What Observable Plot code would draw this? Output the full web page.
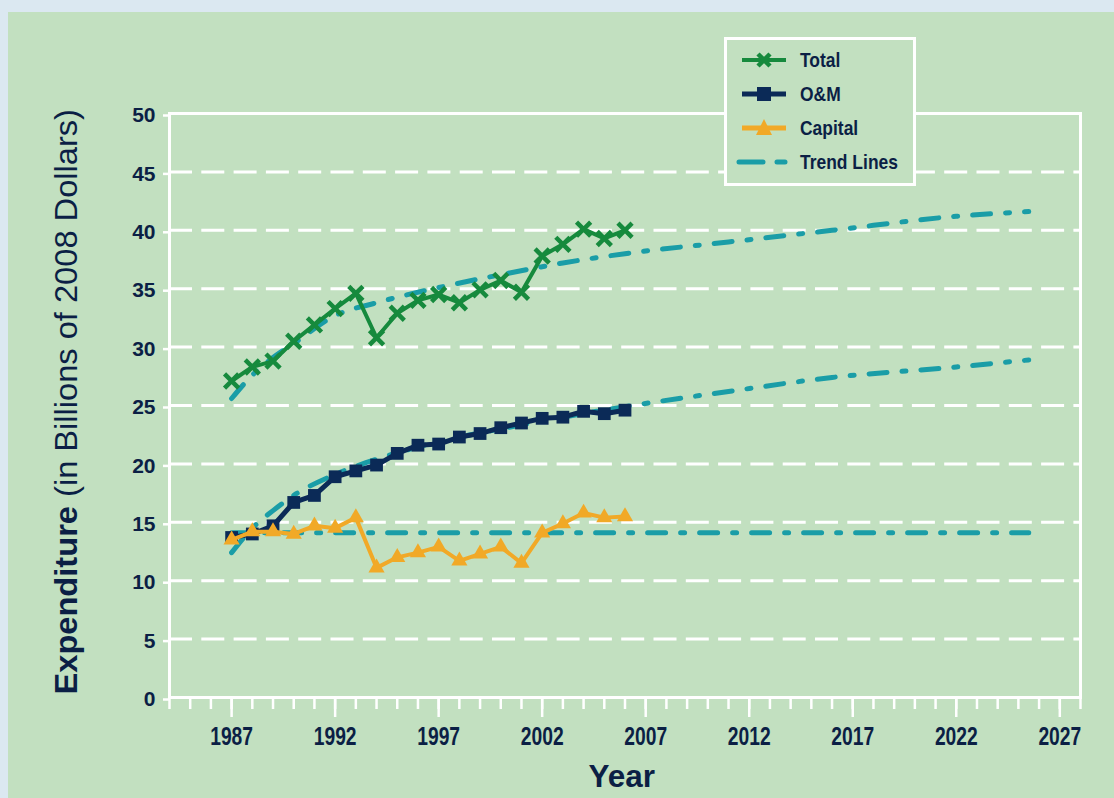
<!DOCTYPE html>
<html>
<head>
<meta charset="utf-8">
<script src="https://cdn.jsdelivr.net/npm/d3@7"></script>
<script src="https://cdn.jsdelivr.net/npm/@observablehq/plot@0.6"></script>
<style>
  html, body { margin: 0; padding: 0; }
  body { width: 1114px; height: 798px; background: #dbe8f1; position: relative; overflow: hidden; }
  #panel { position: absolute; left: 8px; top: 12px; width: 1106px; height: 786px; background: #c2e0c0; }
  #chart { position: absolute; left: 0; top: 0; }
  .narrow { font-family: "Liberation Sans", Arial, sans-serif; font-weight: bold; color: #0b1f45; line-height: 1; }
  .anchor { position: absolute; width: 0; height: 0; }
  .anchor > span { position: absolute; left: 0; top: 0; white-space: nowrap; display: inline-block; }
  #ytitle > span { font-size: 32px; }
  #ytitle .light { font-weight: normal; }
  #xtitle > span { font-size: 31px; }
  #legend { position: absolute; left: 724px; top: 37px; width: 186px; height: 143px; border: 3px solid #fff; background: #c2e0c0; }
</style>
</head>
<body>
<div id="panel"></div>
<div id="chart"></div>
<div id="ytitle" class="anchor narrow" style="left:66px; top:402px;"><span>Expenditure <span class="light">(in Billions of 2008 Dollars)</span></span></div>
<div id="xtitle" class="anchor narrow" style="left:622px; top:776px;"><span>Year</span></div>
<div id="legend"></div>
<script>
// ---- data ----
const years = [1987, 1988, 1989, 1990, 1991, 1992, 1993, 1994, 1995, 1996, 1997, 1998, 1999, 2000, 2001, 2002, 2003, 2004, 2005, 2006];
const totalValues = [27.1, 28.3, 28.8, 30.5, 31.9, 33.3, 34.6, 30.8, 32.9, 34.0, 34.5, 33.8, 34.9, 35.7, 34.7, 37.8, 38.8, 40.1, 39.3, 40.0];
const omValues = [13.7, 14.0, 14.7, 16.7, 17.3, 18.9, 19.4, 19.9, 20.9, 21.6, 21.7, 22.3, 22.6, 23.1, 23.5, 23.9, 24.0, 24.5, 24.3, 24.6];
const capitalValues = [13.5, 14.2, 14.2, 14.0, 14.7, 14.5, 15.4, 11.1, 12.0, 12.4, 12.9, 11.7, 12.3, 12.9, 11.5, 14.1, 14.9, 15.8, 15.4, 15.5];

const trendYears = [1987, 1988, 1989, 1990, 1992, 1994, 1997, 2000, 2003, 2006, 2011, 2016, 2022, 2025.5];
const totalTrend = [25.6, 27.6, 29.1, 30.3, 32.7, 33.8, 35.1, 36.2, 37.2, 38.0, 39.0, 40.0, 41.2, 41.6];
const omTrend = [12.4, 14.5, 16.0, 17.3, 19.1, 20.4, 21.9, 23.0, 24.0, 24.9, 26.2, 27.4, 28.3, 28.9];
const capitalTrendYears = [1987, 2025.5];
const capitalTrend = [14.1, 14.1];

const yTicks = [0, 5, 10, 15, 20, 25, 30, 35, 40, 45, 50];
const gridValues = [5, 10, 15, 20, 25, 30, 35, 40, 45];
const xLabelTicks = [1987, 1992, 1997, 2002, 2007, 2012, 2017, 2022, 2027];
const xMinorTicks = d3.range(1984, 2029);

const seriesNames = ["Total", "O&M", "Capital", "Trend Lines"];

// ---- styles ----
const C = { total: "#168a3d", om: "#0b2a57", capital: "#f1a927", trend: "#1a9da7", text: "#0b1f45" };
const font = '"Liberation Sans", Arial, sans-serif';

const toRows = (xs, ys) => xs.map((x, i) => ({ x, y: ys[i] }));
const total = toRows(years, totalValues);
const om = toRows(years, omValues);
const capital = toRows(years, capitalValues);
const tTotal = toRows(trendYears, totalTrend);
const tOm = toRows(trendYears, omTrend);
const tCap = toRows(capitalTrendYears, capitalTrend);

const trendStyle = { x: "x", y: "y", stroke: C.trend, strokeWidth: 5, strokeDasharray: "18,15,4,15", strokeLinecap: "round", curve: "monotone-x" };

const chart = Plot.plot({
  width: 1114,
  height: 798,
  marginTop: 113,
  marginBottom: 101,
  marginLeft: 169,
  marginRight: 34,
  style: { background: "transparent", overflow: "visible" },
  x: { domain: [1984, 2028] },
  y: { domain: [0, 50] },
  marks: [
    Plot.ruleY(gridValues, { stroke: "white", strokeWidth: 3, strokeDasharray: "23,9.3" }),
    Plot.frame({ stroke: "white", strokeWidth: 3 }),
    Plot.axisY({ ticks: yTicks, tickSize: 6, tickPadding: 8, stroke: "white", strokeWidth: 2.5, fill: C.text, dy: 2,
      fontSize: 21, fontWeight: "bold", fontFamily: font, label: null, tickFormat: d => d }),
    Plot.axisX({ ticks: xMinorTicks, tickSize: 12, stroke: "white", strokeWidth: 2.5, text: null, label: null }),
    Plot.axisX({ ticks: xLabelTicks, tickSize: 20, tickPadding: 10, stroke: "white", strokeWidth: 2.5, fill: C.text,
      fontSize: 25, fontWeight: "bold", fontFamily: font, label: null, tickFormat: d => String(d) }),
    Plot.line(tCap, trendStyle),
    Plot.line(tOm, trendStyle),
    Plot.line(tTotal, trendStyle),
    Plot.line(total, { x: "x", y: "y", stroke: C.total, strokeWidth: 4 }),
    Plot.dot(total, { x: "x", y: "y", symbol: "times", r: 6.5, stroke: C.total, strokeWidth: 4.5 }),
    Plot.line(om, { x: "x", y: "y", stroke: C.om, strokeWidth: 5 }),
    Plot.dot(om, { x: "x", y: "y", symbol: "square", r: 7.2, fill: C.om }),
    Plot.line(capital, { x: "x", y: "y", stroke: C.capital, strokeWidth: 4 }),
    Plot.dot(capital, { x: "x", y: "y", symbol: "triangle", r: 6, fill: C.capital })
  ]
});
document.getElementById("chart").appendChild(chart);

// condense the year tick labels
d3.select(chart).selectAll("g[aria-label='x-axis tick label'] text").each(function () {
  const t = this.getAttribute("transform") || "";
  this.setAttribute("transform", t + " scale(0.77,1)");
});

// ---- axis titles, condensed to the reference widths ----
function fitTitle(id, targetWidth, rotate) {
  const s = document.querySelector("#" + id + " > span");
  const w = s.offsetWidth, h = s.offsetHeight;
  const k = targetWidth / w;
  s.style.transformOrigin = "0 0";
  s.style.transform = (rotate ? "rotate(-90deg) " : "") + `scale(${k},1) translate(${-w / 2}px, ${-h / 2}px)`;
}
fitTitle("ytitle", 585, true);
fitTitle("xtitle", 67, false);

// ---- legend ----
const sym = {
  "Total": `<line x1="15" y1="20" x2="59" y2="20" stroke="${C.total}" stroke-width="4"/><path d="M31,14L43,26M43,14L31,26" stroke="${C.total}" stroke-width="4.5"/>`,
  "O&M": `<line x1="15" y1="20" x2="59" y2="20" stroke="${C.om}" stroke-width="5"/><rect x="30" y="13" width="14" height="14" fill="${C.om}"/>`,
  "Capital": `<line x1="15" y1="20" x2="59" y2="20" stroke="${C.capital}" stroke-width="5"/><path d="M37,11L45,27L29,27Z" fill="${C.capital}"/>`,
  "Trend Lines": `<line x1="12" y1="20" x2="59" y2="20" stroke="${C.trend}" stroke-width="5" stroke-linecap="round" stroke-dasharray="24,14,8,30"/>`
};
const rowsY = [20, 54, 88, 122];
let svg = `<svg width="186" height="143" xmlns="http://www.w3.org/2000/svg">`;
seriesNames.forEach((n, i) => {
  svg += `<g transform="translate(0,${rowsY[i] - 20})">${sym[n]}<g transform="translate(73,20)"><text class="lg" x="0" y="0" dy="0.36em" fill="${C.text}" font-family='${font}' font-weight="bold" font-size="20">${n.replace("&", "&amp;")}</text></g></g>`;
});
svg += `</svg>`;
document.getElementById("legend").innerHTML = svg;
const lgTexts = document.querySelectorAll("#legend text.lg");
const trendW = lgTexts[3].getComputedTextLength();
const kLg = 98 / trendW;
lgTexts.forEach(t => t.setAttribute("transform", `scale(${kLg},1)`));
</script>
</body>
</html>
